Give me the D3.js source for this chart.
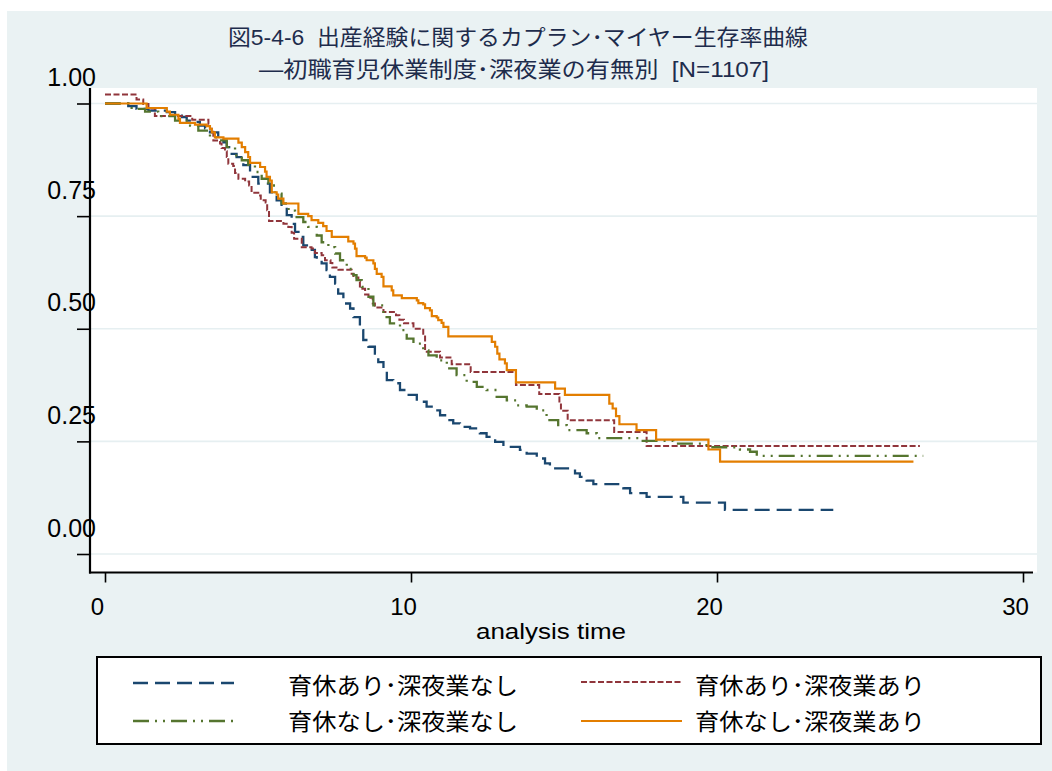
<!DOCTYPE html>
<html>
<head>
<meta charset="utf-8">
<script src="https://cdn.jsdelivr.net/npm/d3@7"></script>
<style>
  body { margin: 0; background: #ffffff; }
  text { font-family: "Liberation Sans", Arial, "Noto Sans CJK JP", sans-serif; }
</style>
</head>
<body>
<script>
// Kaplan–Meier survival estimates, [analysis time, survival], step after each event
const leaveYesNightNo = [
  [0,1.0],[0.76,0.994],[1.03,0.988],[1.42,0.984],[2.02,0.981],[2.29,0.973],[2.51,0.970],[2.67,0.962],
  [2.94,0.959],[3.10,0.951],[3.27,0.945],[3.43,0.936],[3.70,0.922],[3.87,0.914],[3.98,0.903],[4.14,0.888],
  [4.30,0.881],[4.52,0.863],[4.74,0.837],[5.01,0.822],[5.39,0.803],[5.61,0.785],[5.77,0.770],[5.94,0.752],
  [6.10,0.733],[6.21,0.715],[6.37,0.704],[6.48,0.685],[6.64,0.675],[6.86,0.659],[6.92,0.652],[7.08,0.645],
  [7.24,0.630],[7.35,0.615],[7.52,0.600],[7.62,0.578],[7.79,0.556],[8.01,0.545],[8.12,0.526],[8.33,0.497],
  [8.44,0.475],[8.61,0.460],[8.82,0.445],[8.93,0.426],[9.10,0.408],[9.21,0.386],[9.42,0.379],[9.64,0.364],
  [9.86,0.353],[10.19,0.338],[10.51,0.327],[10.73,0.319],[10.95,0.308],[11.17,0.297],[11.38,0.290],
  [11.60,0.282],[11.93,0.279],[12.25,0.268],[12.47,0.260],[12.75,0.249],[13.02,0.238],[13.56,0.231],
  [13.78,0.223],[14.11,0.212],[14.38,0.201],[14.54,0.190],[15.36,0.179],[15.52,0.171],[15.74,0.163],
  [15.96,0.155],[16.94,0.146],[17.16,0.135],[17.70,0.127],[18.90,0.114],[20.26,0.098],[23.80,0.098]
];
const leaveYesNightYes = [
  [0,1.02],[1.03,1.009],[1.25,0.999],[1.42,0.989],[1.63,0.972],[2.85,0.964],[3.38,0.955],[3.43,0.944],
  [3.54,0.918],[3.76,0.911],[3.81,0.901],[3.92,0.894],[3.98,0.881],[4.03,0.866],[4.19,0.861],[4.25,0.846],
  [4.36,0.833],[4.58,0.827],[4.71,0.818],[4.79,0.802],[5.01,0.796],[5.09,0.785],[5.25,0.780],[5.30,0.763],
  [5.36,0.739],[5.83,0.733],[5.99,0.726],[6.10,0.713],[6.18,0.700],[6.43,0.681],[6.75,0.678],[6.86,0.668],
  [7.08,0.663],[7.19,0.652],[7.37,0.646],[7.43,0.636],[7.63,0.631],[8.06,0.622],[8.12,0.614],[8.28,0.604],
  [8.33,0.589],[8.50,0.576],[8.61,0.569],[8.75,0.556],[8.82,0.547],[9.10,0.537],[9.51,0.530],[9.62,0.520],
  [9.77,0.512],[10.08,0.500],[10.40,0.486],[10.46,0.449],[10.95,0.436],[11.33,0.421],[11.95,0.404],
  [13.43,0.375],[14.19,0.355],[14.85,0.334],[14.90,0.318],[15.12,0.297],[16.64,0.271],[17.70,0.240],
  [26.63,0.240]
];
const leaveNoNightNo = [
  [0,1.0],[0.76,0.994],[0.87,0.988],[1.31,0.982],[1.74,0.972],[2.29,0.962],[2.78,0.951],[3.05,0.940],
  [3.43,0.925],[3.70,0.918],[3.98,0.903],[4.25,0.885],[4.47,0.874],[4.68,0.864],[4.90,0.848],[5.12,0.833],
  [5.34,0.818],[5.56,0.800],[5.77,0.778],[6.00,0.762],[6.21,0.748],[6.48,0.737],[6.64,0.726],[6.92,0.707],
  [7.08,0.692],[7.30,0.681],[7.52,0.667],[7.68,0.652],[7.90,0.633],[8.12,0.619],[8.22,0.608],[8.39,0.593],
  [8.61,0.571],[8.77,0.552],[9.10,0.526],[9.31,0.512],[9.64,0.497],[9.86,0.478],[10.08,0.467],[10.40,0.452],
  [10.57,0.441],[10.84,0.430],[11.17,0.412],[11.49,0.397],[11.82,0.382],[12.15,0.371],[12.47,0.364],
  [12.80,0.349],[13.13,0.341],[13.45,0.330],[13.78,0.327],[14.11,0.319],[14.43,0.297],[14.81,0.286],
  [15.09,0.275],[15.74,0.268],[16.07,0.257],[17.48,0.251],[18.57,0.245],[19.66,0.237],[20.75,0.232],
  [21.08,0.227],[21.30,0.218],[26.74,0.218]
];
const leaveNoNightYes = [
  [0,1.0],[1.36,0.990],[2.02,0.982],[2.12,0.975],[2.40,0.966],[2.45,0.957],[2.94,0.953],[3.32,0.950],
  [3.43,0.944],[3.49,0.936],[3.59,0.925],[3.87,0.922],[4.36,0.913],[4.47,0.903],[4.58,0.892],[4.68,0.881],
  [4.74,0.868],[5.07,0.859],[5.23,0.849],[5.28,0.837],[5.39,0.829],[5.45,0.803],[5.61,0.798],[5.66,0.789],
  [5.83,0.778],[6.32,0.755],[6.64,0.750],[6.75,0.741],[6.97,0.735],[7.13,0.728],[7.24,0.717],[7.41,0.704],
  [7.95,0.694],[8.12,0.689],[8.17,0.678],[8.22,0.661],[8.50,0.658],[8.55,0.652],[8.77,0.645],[8.82,0.633],
  [8.88,0.622],[9.04,0.615],[9.10,0.594],[9.37,0.585],[9.42,0.574],[9.70,0.568],[10.19,0.563],[10.24,0.557],
  [10.40,0.554],[10.46,0.546],[10.62,0.541],[10.68,0.528],[10.84,0.525],[10.89,0.519],[11.00,0.513],
  [11.06,0.504],[11.22,0.483],[12.64,0.471],[12.75,0.460],[12.82,0.445],[12.89,0.432],[13.07,0.423],
  [13.13,0.408],[13.43,0.381],[14.71,0.367],[15.03,0.353],[16.48,0.334],[16.59,0.323],[16.70,0.306],
  [16.81,0.288],[17.37,0.275],[18.01,0.254],[19.72,0.232],[20.10,0.205],[26.42,0.205]
];

const seriesNames = ["育休あり･深夜業なし", "育休あり･深夜業あり", "育休なし･深夜業なし", "育休なし･深夜業あり"];
const xTicks = [0, 10, 20, 30];
const yTicks = [0, 0.25, 0.5, 0.75, 1];
const titleLines = ["図5-4-6  出産経験に関するカプラン･マイヤー生存率曲線", "―初職育児休業制度･深夜業の有無別  [N=1107]"];
const xTitle = "analysis time";

const W = 1052, H = 771;
const svg = d3.select("body").append("svg").attr("width", W).attr("height", H);

// panel background
svg.append("rect").attr("x", 7).attr("y", 11).attr("width", W - 7).attr("height", H - 11).attr("fill", "#eaf2f3");

const plot = { left: 90, right: 1037, top: 88, bottom: 572.5 };
svg.append("rect").attr("x", plot.left).attr("y", plot.top)
  .attr("width", plot.right - plot.left).attr("height", plot.bottom - plot.top).attr("fill", "#ffffff");

const x = d3.scaleLinear().domain([0, 30]).range([105, 1023]);
const y = d3.scaleLinear().domain([0, 1]).range([554, 103.5]);

// horizontal grid
svg.append("g").selectAll("line").data(yTicks).join("line")
  .attr("x1", plot.left).attr("x2", plot.right)
  .attr("y1", d => y(d)).attr("y2", d => y(d))
  .attr("stroke", "#e6eff1").attr("stroke-width", 1.6);

// axes
const yAxis = svg.append("g").attr("transform", `translate(${plot.left},0)`)
  .call(d3.axisLeft(y).tickValues(yTicks).tickFormat(d3.format(".2f")).tickSize(13));
yAxis.select(".domain").remove();
yAxis.selectAll(".tick line").attr("stroke", "#000").attr("stroke-width", 1.6);
yAxis.selectAll(".tick text")
  .attr("x", 6).attr("y", -18).attr("dy", 0)
  .attr("font-size", 25).attr("fill", "#000")
  .style("font-family", "'Liberation Sans', Arial, sans-serif");

const xAxis = svg.append("g").attr("transform", `translate(0,${plot.bottom})`)
  .call(d3.axisBottom(x).tickValues(xTicks).tickFormat(d3.format("d")).tickSize(10));
xAxis.select(".domain").remove();
xAxis.selectAll(".tick line").attr("stroke", "#000").attr("stroke-width", 1.6);
xAxis.selectAll(".tick text")
  .attr("x", -8).attr("y", 42).attr("dy", 0)
  .attr("font-size", 24).attr("fill", "#000")
  .style("font-family", "'Liberation Sans', Arial, sans-serif");

// axis lines
svg.append("line").attr("x1", plot.left).attr("x2", plot.left).attr("y1", plot.top).attr("y2", plot.bottom + 1)
  .attr("stroke", "#000").attr("stroke-width", 2.2);
svg.append("line").attr("x1", plot.left - 1).attr("x2", 1033).attr("y1", plot.bottom).attr("y2", plot.bottom)
  .attr("stroke", "#000").attr("stroke-width", 2.2);

// survival curves
const styles = [
  { data: leaveYesNightNo, color: "#1a476f", dash: "15,7", width: 2.3 },
  { data: leaveYesNightYes, color: "#90353b", dash: "6,2.5", width: 2.0 },
  { data: leaveNoNightNo, color: "#55752f", dash: "16,6,2,6,2,6", width: 2.3 },
  { data: leaveNoNightYes, color: "#e37e00", dash: null, width: 2.2 }
];
const line = d3.line().x(d => x(d[0])).y(d => y(d[1])).curve(d3.curveStepAfter);
styles.forEach(s => {
  svg.append("path").datum(s.data).attr("d", line)
    .attr("fill", "none").attr("stroke", s.color).attr("stroke-width", s.width)
    .attr("stroke-dasharray", s.dash);
});

// title
const titleColor = "#1e2c4c";
[[titleLines[0], 518, 45, 580], [titleLines[1], 514, 77, 510]].forEach(([t, cx, by, len]) => {
  svg.append("text").attr("x", cx).attr("y", by).attr("text-anchor", "middle")
    .attr("font-size", 22).attr("fill", titleColor)
    .attr("textLength", len).attr("lengthAdjust", "spacingAndGlyphs")
    .style("white-space", "pre").text(t);
});

// x axis title
svg.append("text").attr("x", 551).attr("y", 639).attr("text-anchor", "middle")
  .attr("font-size", 22).attr("fill", "#000")
  .attr("textLength", 150).attr("lengthAdjust", "spacingAndGlyphs").text(xTitle);

// legend
svg.append("rect").attr("x", 97).attr("y", 657).attr("width", 944).attr("height", 87)
  .attr("fill", "#ffffff").attr("stroke", "#000").attr("stroke-width", 2);
const legendPos = [
  { lx: 133, ly: 683, tx: 288, ty: 694 },
  { lx: 581, ly: 682, tx: 695, ty: 694 },
  { lx: 133, ly: 721, tx: 288, ty: 730 },
  { lx: 581, ly: 721, tx: 695, ty: 730 }
];
styles.forEach((s, i) => {
  const p = legendPos[i];
  svg.append("line").attr("x1", p.lx).attr("x2", p.lx + 101).attr("y1", p.ly).attr("y2", p.ly)
    .attr("stroke", s.color).attr("stroke-width", s.width).attr("stroke-dasharray", s.dash);
  svg.append("text").attr("x", p.tx).attr("y", p.ty).attr("font-size", 23).attr("fill", "#000")
    .attr("textLength", 230).attr("lengthAdjust", "spacingAndGlyphs").text(seriesNames[i]);
});
</script>
</body>
</html>
